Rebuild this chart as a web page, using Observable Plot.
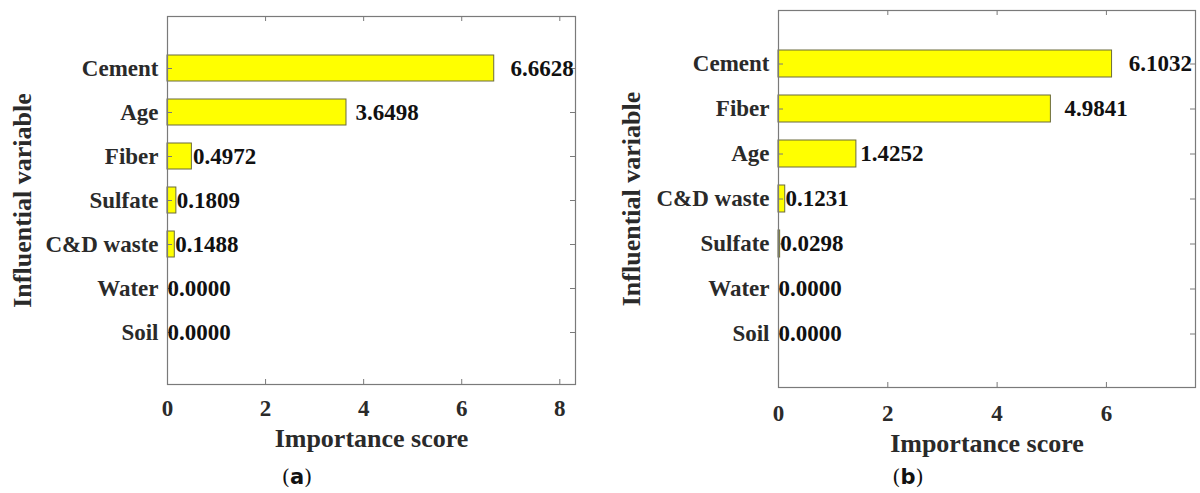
<!DOCTYPE html>
<html>
<head>
<meta charset="utf-8">
<script src="https://cdn.jsdelivr.net/npm/d3@7"></script>
<script src="https://cdn.jsdelivr.net/npm/@observablehq/plot@0.6"></script>
<style>
  html, body { margin: 0; padding: 0; background: #fff; }
  #wrap { position: relative; width: 1200px; height: 493px; overflow: hidden; }
  .panel { position: absolute; top: 0; width: 600px; height: 493px; }
  .cap { position: absolute; top: 465px; font-family: "DejaVu Serif", serif; font-size: 21px; color: #111; transform: translateX(-50%); white-space: nowrap; }
  .cap b { font-family: "DejaVu Sans", sans-serif; }
</style>
</head>
<body>
<div id="wrap">
  <div class="panel" id="pa" style="left:0"></div>
  <div class="panel" id="pb" style="left:600px"></div>
  <div class="cap" style="left:297px">(<b>a</b>)</div>
  <div class="cap" style="left:908px">(<b>b</b>)</div>
</div>
<script>
const namesA = ["Cement", "Age", "Fiber", "Sulfate", "C&D waste", "Water", "Soil"];
const scoresA = [6.6628, 3.6498, 0.4972, 0.1809, 0.1488, 0.0000, 0.0000];
const ticksA = [0, 2, 4, 6, 8];

const namesB = ["Cement", "Fiber", "Age", "C&D waste", "Sulfate", "Water", "Soil"];
const scoresB = [6.1032, 4.9841, 1.4252, 0.1231, 0.0298, 0.0000, 0.0000];
const ticksB = [0, 2, 4, 6];

const xLabel = "Importance score";
const yLabel = "Influential variable";

function panel(names, scores, ticks, cfg) {
  const data = names.map((name, i) => ({name, value: scores[i]}));
  const W = 600, H = 460;
  const fw = W - cfg.ml - cfg.mr;
  const fh = H - cfg.mt - cfg.mb;
  const axisColor = "#7a7a7a";
  const tl = 5;
  return Plot.plot({
    width: W,
    height: H,
    marginLeft: cfg.ml,
    marginRight: cfg.mr,
    marginTop: cfg.mt,
    marginBottom: cfg.mb,
    style: {fontFamily: "'Liberation Serif', 'Times New Roman', serif", fontSize: "23px", fontWeight: "bold", color: "#2a2a2a", background: "white"},
    x: {domain: [0, cfg.xmax], ticks: ticks, tickSize: 0, tickPadding: cfg.xpad, label: null, tickFormat: d3.format("d")},
    y: {domain: names, paddingInner: 0.4, paddingOuter: 0.8, tickSize: 0, tickPadding: 9, label: null},
    marks: [
      Plot.barX(data, {x: "value", y: "name", fill: "#ffff00", stroke: "#6b6b3c", strokeWidth: 1}),
      Plot.tickX(ticks, {x: d => d, insetBottom: fh - tl, stroke: axisColor}),
      Plot.tickX(ticks, {x: d => d, insetTop: fh - tl, stroke: axisColor}),
      Plot.tickY(names, {y: d => d, insetLeft: fw - tl, stroke: axisColor}),
      Plot.tickY(names, {y: d => d, insetRight: fw - tl, stroke: axisColor}),
      Plot.frame({stroke: axisColor, strokeWidth: 1.2}),
      Plot.text(data, {x: d => d.value * 1.05, y: "name", text: d => d.value.toFixed(4), textAnchor: "start", fill: "#111", fontSize: 23, fontWeight: "bold"}),
      Plot.text([xLabel], {frameAnchor: "bottom", text: d => d, dy: cfg.xlab, textAnchor: "middle", lineAnchor: "middle", fontSize: 26, fontWeight: "bold", fill: "#2a2a2a"}),
      Plot.text([yLabel], {frameAnchor: "left", text: d => d, rotate: -90, dx: cfg.ylab, textAnchor: "middle", lineAnchor: "middle", fontSize: 26, fontWeight: "bold", fill: "#2a2a2a"})
    ]
  });
}

document.getElementById("pa").appendChild(
  panel(namesA, scoresA, ticksA, {ml: 167, mr: 25, mt: 16, mb: 76, xmax: 8.32, xpad: 15, xlab: 54, ylab: -145})
);
document.getElementById("pb").appendChild(
  panel(namesB, scoresB, ticksB, {ml: 178, mr: 5, mt: 10, mb: 73, xmax: 7.63, xpad: 17, xlab: 56, ylab: -147})
);
</script>
</body>
</html>
